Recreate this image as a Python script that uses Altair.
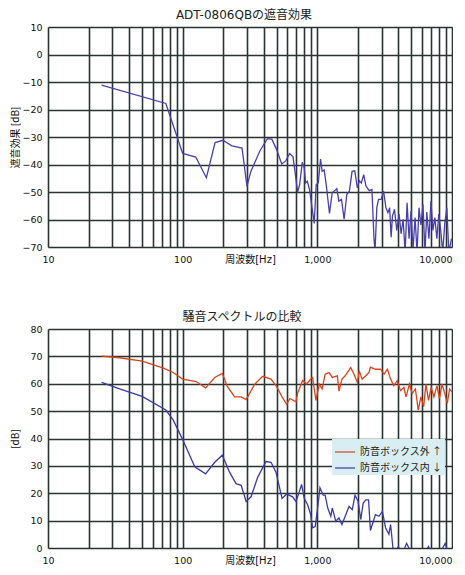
import altair as alt
import pandas as pd

# ---- Chart 1: 遮音効果 ----
top_freq = [25, 75, 100, 125, 150, 174, 199, 232, 276, 300, 321, 374, 426, 459, 497, 544, 583, 623, 660,
            714, 739, 773, 800, 818, 842, 875, 917, 948, 981, 1016, 1057, 1086, 1124, 1164, 1231, 1289,
            1349, 1396, 1444, 1511, 1581, 1655, 1730, 1811, 1896, 1983, 2051, 2123, 2210, 2299, 2430,
            2543, 2631, 2680, 2765, 2849, 2980, 3103, 3230, 3342, 3442, 3532, 3614, 3741, 3890, 4046,
            4188, 4335, 4487, 4640, 4800, 4965, 5130, 5320, 5500, 5690, 5880, 6090, 6300, 6500, 6740,
            6980, 7210, 7460, 7720, 7980, 8250, 8530, 8830, 9160, 9470, 9900]
top_db = [-11.1, -17.8, -36.0, -37.3, -44.8, -32.0, -31.2, -33.2, -34.0, -47.9, -42.5, -35.1, -30.6, -30.8,
          -34.4, -39.8, -38.7, -36.0, -37.2, -50.0, -47.3, -39.2, -41.4, -46.7, -46.1, -49.1, -56.3, -61.4,
          -47.3, -46.7, -38.0, -42.5, -42.0, -47.3, -57.8, -50.3, -49.5, -48.8, -53.3, -52.7, -59.9, -50.9,
          -49.7, -42.5, -42.3, -48.5, -45.9, -46.7, -43.7, -47.9, -49.5, -49.1, -66.4, -72.0, -55.7, -52.7,
          -52.7, -49.7, -55.7, -57.5, -55.7, -66.4, -58.7, -56.3, -64.0, -58.0, -65.2, -59.9, -72.0, -53.9,
          -67.0, -56.9, -71.0, -59.3, -72.0, -55.7, -62.0, -54.5, -72.0, -57.3, -67.0, -53.3, -64.0, -59.3,
          -67.0, -58.0, -64.0, -72.0, -61.6, -55.7, -72.0, -67.0]

# ---- Chart 2: 騒音スペクトル ----
out_freq = [25, 34, 50, 72, 85, 100, 126, 148, 173, 197, 213, 243, 272, 296, 341, 393, 453, 499, 547, 592,
            626, 694, 712, 778, 832, 871, 892, 922, 976, 1033, 1085, 1143, 1224, 1292, 1408, 1448, 1524,
            1610, 1769, 1873, 1983, 2050, 2150, 2290, 2420, 2480, 2700, 2950, 3130, 3310, 3500, 3700, 3920,
            4150, 4390, 4560, 4830, 5060, 5350, 5610, 5880, 6160, 6400, 6700, 7000, 7340, 7740, 8060, 8440,
            8840, 9220, 9600, 10000]
out_db = [70.1, 69.5, 68.3, 65.7, 64.1, 61.7, 60.8, 58.5, 62.3, 63.8, 59.3, 55.2, 55.2, 54.2, 59.7, 62.7,
          61.7, 59.0, 55.2, 52.5, 54.6, 53.4, 56.4, 61.2, 59.9, 61.1, 61.7, 62.3, 53.9, 59.9, 58.1, 63.5,
          64.1, 62.3, 62.9, 57.3, 61.7, 62.9, 65.9, 63.5, 60.5, 64.7, 61.7, 62.9, 64.1, 66.1, 65.3, 65.3,
          63.5, 65.3, 61.7, 59.3, 61.1, 57.5, 58.7, 55.2, 59.9, 56.4, 58.1, 50.4, 55.2, 51.6, 59.9, 53.9,
          58.7, 55.2, 59.3, 54.6, 59.9, 56.4, 52.8, 58.1, 57.0]

in_freq = [25, 34, 50, 75, 85, 100, 123, 148, 173, 197, 223, 249, 272, 296, 322, 361, 416, 453, 493, 547,
           592, 656, 694, 734, 764, 800, 847, 892, 922, 964, 1005, 1046, 1105, 1143, 1195, 1259, 1292, 1370,
           1448, 1524, 1610, 1720, 1817, 1905, 2010, 2100, 2190, 2290, 2400, 2480, 2560, 2700, 2870, 3040,
           3210, 3400, 3500, 3640, 3810, 4000, 4200, 4450, 4600, 4900, 5350, 5850, 6700, 7000, 7900, 8900,
           9400, 10000]
in_db = [60.5, 58.1, 55.4, 50.4, 46.8, 39.6, 29.7, 27.1, 31.3, 33.9, 27.7, 23.5, 22.9, 17.0, 18.7, 25.9,
         31.6, 31.3, 27.7, 18.1, 19.7, 18.7, 17.0, 20.5, 23.2, 18.1, 15.8, 12.2, 7.4, 7.8, 14.6, 22.0, 19.3,
         19.3, 14.6, 11.6, 14.6, 9.8, 11.0, 8.6, 11.6, 15.2, 14.0, 19.3, 17.0, 10.4, 16.4, 17.6, 17.6, 6.4,
         8.6, 12.2, 11.6, 13.4, 7.4, 5.0, 8.6, 0.2, -1.0, 0.5, -2.0, 0.0, 1.7, -1.0, -2.0, -3.0, 0.5, -2.0,
         -3.0, 1.7, -2.0, -3.0]

series_names = ["防音ボックス外 ↑", "防音ボックス内 ↓"]
series_colors = ["#d8431c", "#3b3aa6"]

x_ticks = [10, 20, 30, 40, 50, 60, 70, 80, 90,
           100, 200, 300, 400, 500, 600, 700, 800, 900,
           1000, 2000, 3000, 4000, 5000, 6000, 7000, 8000, 9000, 10000]

FONT = "DejaVu Sans, Noto Sans CJK JP, sans-serif"
JP = "Noto Sans CJK JP, DejaVu Sans, sans-serif"
GRID = "#2b3333"
W = 404
H1 = 220
H2 = 219


def x_enc():
    return alt.X(
        "f:Q",
        scale=alt.Scale(type="log", domain=[10, 10000], nice=False),
        axis=alt.Axis(
            values=x_ticks,
            labelExpr="indexof([10,100,1000,10000], datum.value) >= 0 ? format(datum.value, ',') : ''",
            labelAlign={"condition": {"test": "datum.value == 10000", "value": "right"}, "value": "center"},
            title="周波数[Hz]",
            titleFont=FONT,
            titleFontSize=10,
            titleFontWeight="normal",
            titleColor="#111",
            titleX=W / 2,
            titleY=15,
            titleBaseline="alphabetic",
            grid=True,
            gridColor=GRID,
            gridWidth=1.6,
            gridOpacity=1,
            ticks=False,
            domain=False,
            labelPadding=7,
            labelFontSize=9.5,
            labelFont=FONT,
            labelColor="#111",
            labelOverlap=False,
            labelFlush=False,
        ),
    )


def y_axis(title, vals, tpad):
    return alt.Axis(
        values=vals,
        title=title,
        titleFont=JP,
        titleFontSize=10,
        titleFontWeight="normal",
        titleColor="#111",
        titlePadding=tpad,
        grid=True,
        gridColor=GRID,
        gridWidth=1.6,
        gridOpacity=1,
        ticks=False,
        domain=False,
        labelPadding=6,
        labelFontSize=9.5,
        labelFont=FONT,
        labelColor="#111",
    )


df_top = pd.DataFrame({"f": top_freq, "db": top_db})
top = alt.Chart(df_top).mark_line(color="#4a3fb0", strokeWidth=1.3, clip=True).encode(
    x=x_enc(),
    y=alt.Y("db:Q", scale=alt.Scale(domain=[-70, 10], nice=False),
            axis=y_axis("遮音効果 [dB]", list(range(-70, 11, 10)), 1)),
).properties(
    width=W, height=H1,
    title=alt.TitleParams("ADT-0806QBの遮音効果", font=FONT, fontSize=12, fontWeight="normal",
                          color="#222", offset=0, dx=-6),
)

df_bot = pd.concat([
    pd.DataFrame({"f": out_freq, "db": out_db, "s": series_names[0]}),
    pd.DataFrame({"f": in_freq, "db": in_db, "s": series_names[1]}),
])
bottom = alt.Chart(df_bot).mark_line(strokeWidth=1.3, clip=True).encode(
    x=x_enc(),
    y=alt.Y("db:Q", scale=alt.Scale(domain=[0, 80], nice=False),
            axis=y_axis("[dB]", list(range(0, 81, 10)), 9)),
    color=alt.Color("s:N", scale=alt.Scale(domain=series_names, range=series_colors),
                    legend=alt.Legend(
                        title=None, orient="none", legendX=284, legendY=412,
                        fillColor="#d9eef3", padding=2, symbolType="stroke",
                        symbolSize=400, symbolStrokeWidth=1.2, labelFont=JP,
                        labelFontSize=10, labelColor="#222", rowPadding=0,
                    )),
    detail="s:N",
).properties(
    width=W, height=H2,
    title=alt.TitleParams("騒音スペクトルの比較", font=FONT, fontSize=12, fontWeight="normal",
                          color="#222", offset=0, dx=-8),
)

chart = alt.vconcat(top, bottom, spacing=82, bounds="flush").configure_view(
    fill="#cfe6ec", stroke=GRID, strokeWidth=1.6
).properties(padding={"left": 2, "top": 0, "right": 0, "bottom": 0}).configure(background="white")

chart.save("out.html", embed_options={"renderer": "svg", "actions": False})
